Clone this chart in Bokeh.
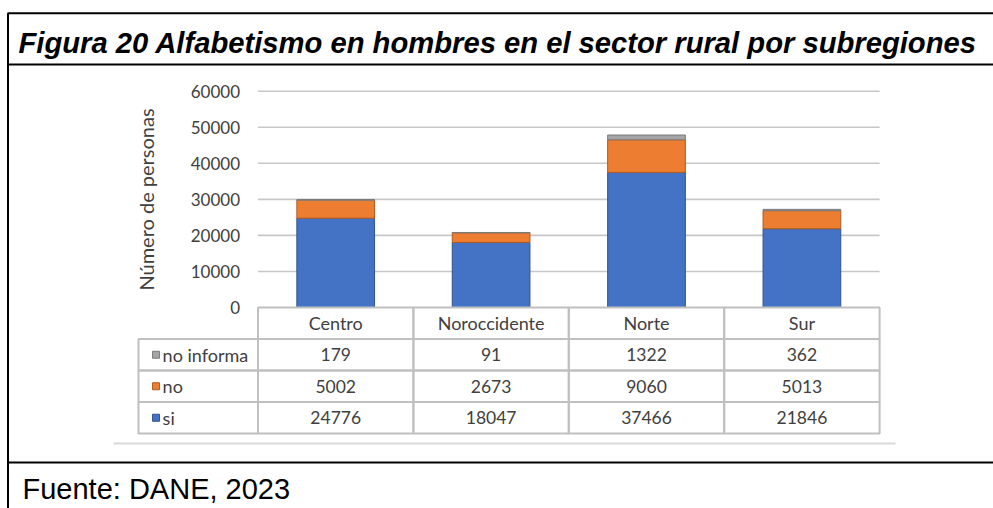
from bokeh.plotting import figure
from bokeh.models import ColumnDataSource, Range1d, LinearAxis, FixedTicker
from bokeh.core.properties import value
from bokeh.embed import file_html
from bokeh.resources import INLINE

# ---------------- data ----------------
categories = ["Centro", "Noroccidente", "Norte", "Sur"]
si = [24776, 18047, 37466, 21846]
no = [5002, 2673, 9060, 5013]
no_informa = [179, 91, 1322, 362]
table_rows = ["no informa", "no", "si"]
y_ticks = [0, 10000, 20000, 30000, 40000, 50000, 60000]
title_text = "Figura 20 Alfabetismo en hombres en el sector rural por subregiones"
source_text = "Fuente: DANE, 2023"
y_label = "Número de personas"

# ---------------- styles / layout ----------------
fill = {"si": "#4472C4", "no": "#ED7D31", "no informa": "#A5A5A5"}
edge = {"si": "#2F528F", "no": "#AE5A21", "no informa": "#7B7B7B"}
TXT = "#404040"
W, H = 993, 508
PX_PER_CAT = 155.4
CAT_LEFT = 257.5            # canvas px of category 0 left edge
ZERO_Y = 307.0              # canvas px (from top) of value 0
PX_PER_60K = 216.3
ROW_H = 31.5                # table row height in px
HDR_LEFT = -0.769           # row header column left edge (category units)

x_start = -CAT_LEFT / PX_PER_CAT
x_end = (W - CAT_LEFT) / PX_PER_CAT
v_per_px = 60000 / PX_PER_60K
y_start = (ZERO_Y - H) * v_per_px
y_end = ZERO_Y * v_per_px

p = figure(width=W, height=H, x_range=Range1d(x_start, x_end),
           y_range=Range1d(y_start, y_end), output_backend="svg",
           toolbar_location=None, x_axis_location=None, y_axis_location=None,
           min_border=0, outline_line_color=None,
           background_fill_color="white", border_fill_color="white")
p.grid.visible = False
p.extra_x_ranges = {"px": Range1d(0, W)}
p.extra_y_ranges = {"px": Range1d(H, 0),
                    "tbl": Range1d((H - ZERO_Y) / ROW_H, -ZERO_Y / ROW_H)}

# horizontal gridlines across the plot area only
grid_vals = y_ticks[1:]
p.segment(x0=[0] * len(grid_vals), x1=[len(categories)] * len(grid_vals),
          y0=grid_vals, y1=grid_vals, line_color="#C8C8C8", line_width=1.6)

# y axis drawn at the left edge of the plot area
yaxis = LinearAxis(fixed_location=0, ticker=FixedTicker(ticks=y_ticks),
                   bounds=(y_ticks[0], y_ticks[-1]),
                   axis_label=y_label, axis_line_color=None,
                   major_tick_line_color=None, minor_tick_line_color=None,
                   major_tick_out=0, major_tick_in=0,
                   major_label_standoff=18,
                   major_label_text_font="Lato",
                   major_label_text_font_size="17px",
                   major_label_text_color=TXT,
                   axis_label_text_font="Lato",
                   axis_label_text_font_size="20px",
                   axis_label_text_font_style="normal",
                   axis_label_text_color=TXT,
                   axis_label_standoff=30)
p.add_layout(yaxis, "left")

# stacked bars
xs = [i + 0.5 for i in range(len(categories))]
src = ColumnDataSource(dict(x=xs, si=si, no=no, ni=no_informa))
p.vbar_stack(["si", "no", "ni"], x="x", width=0.5, source=src,
             fill_color=[fill["si"], fill["no"], fill["no informa"]],
             line_color=[edge["si"], edge["no"], edge["no informa"]],
             line_width=1)

# data table
row_values = {"no informa": no_informa, "no": no, "si": si}
ql, qr, qt, qb = [], [], [], []
for i in range(len(categories)):
    ql.append(i); qr.append(i + 1); qt.append(0); qb.append(1)
for r, name in enumerate(table_rows, start=1):
    ql.append(HDR_LEFT); qr.append(0); qt.append(r); qb.append(r + 1)
    for i in range(len(categories)):
        ql.append(i); qr.append(i + 1); qt.append(r); qb.append(r + 1)
p.quad(left=ql, right=qr, top=qt, bottom=qb, fill_color=None,
       line_color="#C0C0C0", line_width=2, y_range_name="tbl")

p.text(x=xs, y=[0.5] * len(categories), text=categories, y_range_name="tbl",
       text_align="center", text_baseline="middle", text_font=value("Lato"),
       text_font_size="18px", text_color=TXT)
tx, ty, tt = [], [], []
for r, name in enumerate(table_rows, start=1):
    for i, v in enumerate(row_values[name]):
        tx.append(i + 0.5); ty.append(r + 0.5); tt.append(str(v))
p.text(x=tx, y=ty, text=tt, y_range_name="tbl", text_align="center",
       text_baseline="middle", text_font=value("Lato"),
       text_font_size="17.5px", text_color=TXT)

rows_y = [r + 0.5 for r in range(1, len(table_rows) + 1)]
p.scatter(x=[HDR_LEFT + 0.113] * len(table_rows), y=rows_y, marker="square",
          size=7, fill_color=[fill[n] for n in table_rows],
          line_color=[edge[n] for n in table_rows], y_range_name="tbl")
p.text(x=[HDR_LEFT + 0.155] * len(table_rows), y=rows_y, text=table_rows,
       y_range_name="tbl", text_align="left", text_baseline="middle",
       text_font=value("Lato"), text_font_size="18px", text_color=TXT)

# document frame lines
p.segment(x0=[7, 7, 7, 7.5], y0=[12.7, 64, 462, 12.7], x1=[W, W, W, 7.5],
          y1=[12.7, 64, 462, H], line_color="black", line_width=2,
          x_range_name="px", y_range_name="px")
p.segment(x0=[113], y0=[443], x1=[895], y1=[443], line_color="#D9D9D9",
          line_width=2, x_range_name="px", y_range_name="px")

p.text(x=[18], y=[42], text=[title_text], x_range_name="px", y_range_name="px",
       text_font=value("Liberation Sans"), text_font_style="bold italic",
       text_font_size="29.2px", text_baseline="alphabetic", text_color="black")
p.text(x=[22], y=[488], text=[source_text], x_range_name="px",
       y_range_name="px", text_font=value("Liberation Sans"),
       text_font_size="29px", text_baseline="alphabetic", text_color="black")

open("out.html", "w").write(file_html(p, INLINE))
